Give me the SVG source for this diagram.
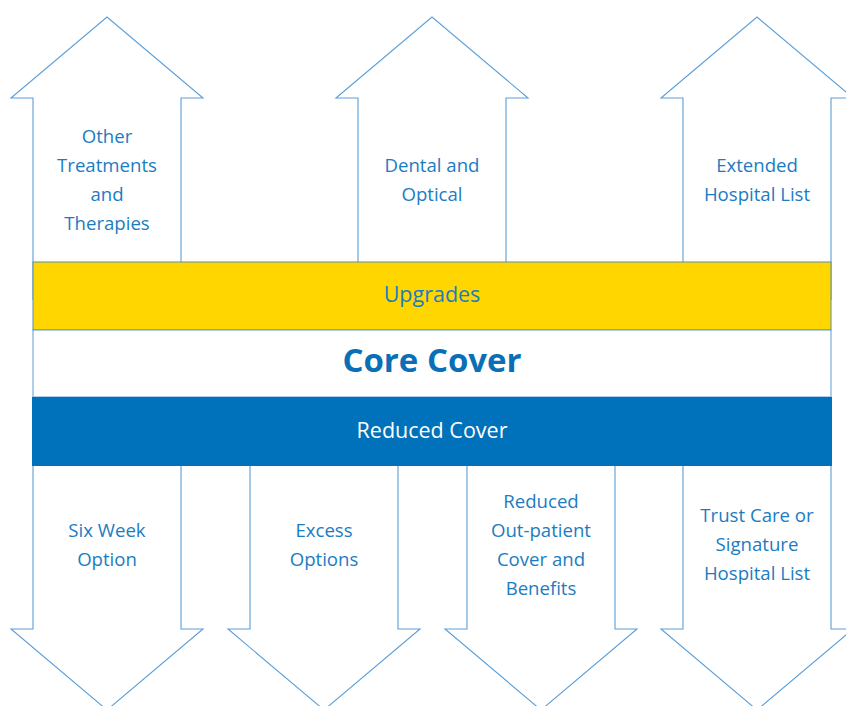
<svg xmlns="http://www.w3.org/2000/svg" width="846" height="706" viewBox="0 0 846 706">
<style>
.arrow{fill:#fff;stroke:#5c9fd8;stroke-width:1.1}
.lbl{font-family:"Open Sans","Noto Sans",sans-serif;font-size:18.6px;fill:#1b7cc2;text-anchor:middle}
.band{font-family:"Open Sans","Noto Sans",sans-serif;font-size:21.5px;text-anchor:middle}
.core{font-family:"Open Sans","Noto Sans",sans-serif;font-size:33px;font-weight:bold;fill:#0a6fb6;text-anchor:middle}
</style>
<rect width="846" height="706" fill="#fff"/>
<g id="connectors">
<path class="arrow" d="M33,300 V98 H11 L107,17 L203,98 H181 V300"/>
<path class="arrow" d="M358,300 V98 H336 L432,17 L528,98 H506 V300"/>
<path class="arrow" d="M683,300 V98 H661 L757,17 L853,98 H831 V300"/>
<path class="arrow" d="M33,440 V629 H11 L107,710 L203,629 H181 V440"/>
<path class="arrow" d="M250,440 V629 H228 L324,710 L420,629 H398 V440"/>
<path class="arrow" d="M467,440 V629 H445 L541,710 L637,629 H615 V440"/>
<path class="arrow" d="M683,440 V629 H661 L757,710 L853,629 H831 V440"/>
</g>
<g id="up-other">
<text class="lbl" x="107" y="143">Other</text>
<text class="lbl" x="107" y="172">Treatments</text>
<text class="lbl" x="107" y="201">and</text>
<text class="lbl" x="107" y="230">Therapies</text>
</g>
<g id="up-dental">
<text class="lbl" x="432" y="172">Dental and</text>
<text class="lbl" x="432" y="201">Optical</text>
</g>
<g id="up-extended">
<text class="lbl" x="757" y="172">Extended</text>
<text class="lbl" x="757" y="201">Hospital List</text>
</g>
<g id="upgrades">
<rect x="33" y="262" width="798" height="68" fill="#ffd600" stroke="#5a8fa3" stroke-width="1"/>
<text class="band" x="432" y="302" fill="#1b7cc2">Upgrades</text>
</g>
<g id="core">
<rect x="33" y="330" width="798" height="67" fill="#fff" stroke="#5c9fd8" stroke-width="1"/>
<text class="core" x="432" y="372">Core Cover</text>
</g>
<g id="reduced">
<rect x="32" y="397" width="800" height="69" fill="#0072bb"/>
<text class="band" x="432" y="438" fill="#fff">Reduced Cover</text>
</g>
<g id="down-six">
<text class="lbl" x="107" y="537">Six Week</text>
<text class="lbl" x="107" y="566">Option</text>
</g>
<g id="down-excess">
<text class="lbl" x="324" y="537">Excess</text>
<text class="lbl" x="324" y="566">Options</text>
</g>
<g id="down-outpatient">
<text class="lbl" x="541" y="508">Reduced</text>
<text class="lbl" x="541" y="537">Out-patient</text>
<text class="lbl" x="541" y="566">Cover and</text>
<text class="lbl" x="541" y="595">Benefits</text>
</g>
<g id="down-trust">
<text class="lbl" x="757" y="522">Trust Care or</text>
<text class="lbl" x="757" y="551">Signature</text>
<text class="lbl" x="757" y="580">Hospital List</text>
</g>
</svg>
